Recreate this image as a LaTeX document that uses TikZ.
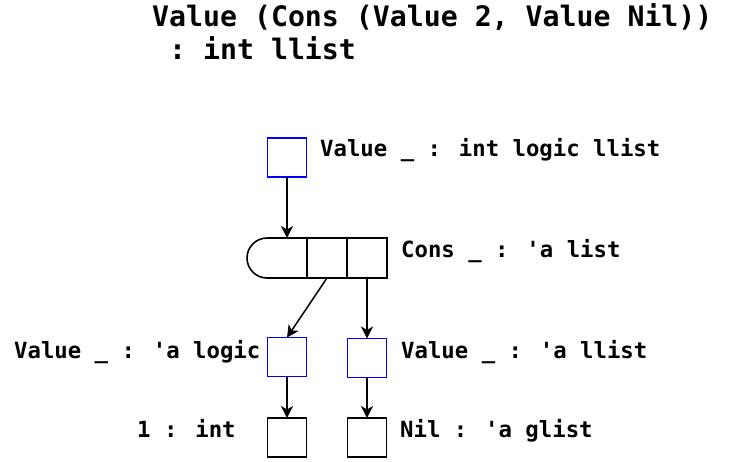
\documentclass[tikz,border=0pt]{standalone}
\usepackage{fontspec}
\newfontfamily\dvm{DejaVu Sans Mono}
\usetikzlibrary{arrows.meta}
\begin{document}
\begin{tikzpicture}[x=1pt,y=1pt,
  box/.style={draw,line width=1.6pt,minimum size=39pt,inner sep=0pt,outer sep=0pt},
  bluebox/.style={box,draw={rgb,255:red,0;green,0;blue,255}},
  cell/.style={minimum width=40pt,minimum height=40pt,inner sep=0pt,outer sep=0pt},
  lab/.style={anchor=base west,inner sep=0pt,font=\dvm\bfseries\fontsize{22.3}{25}\selectfont},
  ttl/.style={anchor=base west,inner sep=0pt,font=\dvm\bfseries\fontsize{28.2}{32}\selectfont},
  arr/.style={line width=1.5pt,-{Stealth[length=12pt,width=12pt,inset=3.5pt]}}]
\useasboundingbox (0,0) rectangle (730,461);
% title
\node[ttl] (t1) at (152,434) {Value (Cons (Value 2, Value Nil))};
\node[ttl] (t2) at (152,401) {\ :\ int llist};
% boxes
\node[bluebox] (top) at (287,303.5) {};
\node[cell] (c1) at (287,203) {};
\node[cell] (c2) at (327,203) {};
\node[cell] (c3) at (367,203) {};
\draw[line width=1.6pt] (c3.north east) -- (c1.north west) arc[start angle=90,end angle=270,radius=20pt] -- (c3.south east) -- cycle;
\draw[line width=1.6pt] (c2.north west) -- (c2.south west);
\draw[line width=1.6pt] (c3.north west) -- (c3.south west);
\node[bluebox] (vl) at (287,104) {};
\node[bluebox] (vr) at (367,103) {};
\node[box] (n1) at (287,23.5) {};
\node[box] (n2) at (367,23.5) {};
% arrows
\draw[arr] (top.south) -- (c1.north);
\draw[arr] (c2.south) -- (vl.north);
\draw[arr] (c3.south) -- (vr.north);
\draw[arr] (vl.south) -- (n1.north);
\draw[arr] (vr.south) -- (n2.north);
% labels
\node[lab] (l1) at (320,304) {Value \_ : int logic llist};
\node[lab] (l2) at (401,204) {Cons \_ : 'a list};
\node[lab] (l3) at (14,103) {Value \_ : 'a logic};
\node[lab] (l4) at (401,103) {Value \_ : 'a llist};
\node[lab] (l5) at (137,24) {1 : int};
\node[lab] (l6) at (400,24) {Nil : 'a glist};
\end{tikzpicture}
\end{document}
